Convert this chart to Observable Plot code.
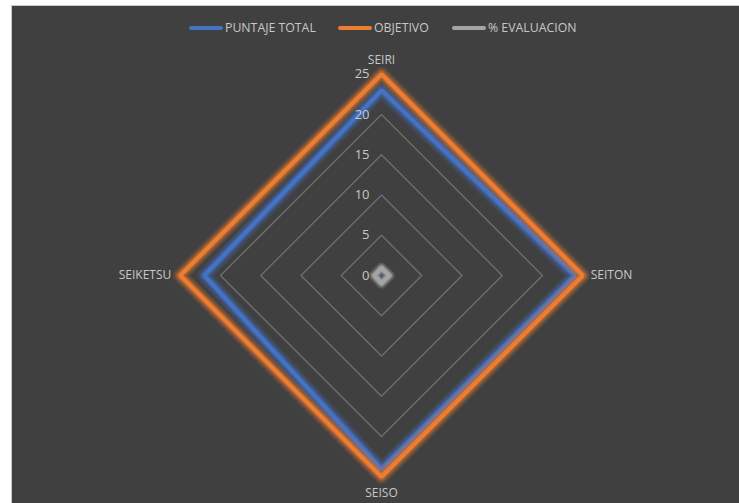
<!DOCTYPE html>
<html>
<head>
<meta charset="utf-8">
<script src="https://cdn.jsdelivr.net/npm/d3@7"></script>
<script src="https://cdn.jsdelivr.net/npm/@observablehq/plot@0.6"></script>
<style>
  html, body { margin: 0; padding: 0; background: #ffffff; }
  body { width: 739px; height: 503px; overflow: hidden; position: relative; font-family: "Open Sans", "Noto Sans", sans-serif; }
  #frame { position: absolute; left: 11px; top: 5px; width: 740px; height: 510px; background: #404040; border-left: 1px solid #c8c8c8; border-top: 1px solid #c8c8c8; }
  #chart { position: absolute; left: 0; top: 0; }
  #legend { position: absolute; top: 19px; left: 0; width: 739px; height: 18px; }
  .li { position: absolute; top: 0; display: flex; align-items: center; color: #c8c8c8; font-size: 12.3px; line-height: 18px; }
  .sw { width: 34px; height: 4px; border-radius: 2px; margin-right: 2px; }
</style>
</head>
<body>
<div id="frame"></div>
<div id="chart"></div>
<div id="legend"></div>
<script>
const categories = ["SEIRI", "SEITON", "SEISO", "SEIKETSU"];
const puntajeTotal = [23, 24, 24, 22];
const objetivo = [25, 25, 25, 25];
const evaluacion = [0.92, 0.96, 0.96, 0.88];
const seriesNames = ["PUNTAJE TOTAL", "OBJETIVO", "% EVALUACION"];
const seriesColors = ["#4472C4", "#ED7D31", "#A5A5A5"];
const ticks = [0, 5, 10, 15, 20, 25];
const gridLevels = [5, 10, 15, 20, 25];

const W = 739, H = 503;
const cx = 381, cy = 275, k = 8.05;

const angle = i => (i * 2 * Math.PI) / categories.length;
const px = (r, i) => r * Math.sin(angle(i));
const py = (r, i) => r * Math.cos(angle(i));

const allSeries = [puntajeTotal, objetivo, evaluacion];
const seriesRows = allSeries.map((vals, s) =>
  categories.map((c, i) => ({ series: seriesNames[s], cat: c, i, value: vals[i] }))
);
const gridRows = gridLevels.flatMap(g => categories.map((c, i) => ({ level: g, i })));
const tickRows = ticks.map(t => ({ t }));
const labelRows = categories.map((c, i) => ({ cat: c, i }));

const marks = [];
// grid diamonds
marks.push(Plot.line(gridRows, {
  x: d => px(d.level, d.i), y: d => py(d.level, d.i), z: "level",
  curve: "linear-closed", stroke: "#6f6f6f", strokeWidth: 1.3
}));
// series: soft glow (stacked translucent strokes) + line
const glowLayers = [[15, 0.12], [12, 0.16], [9, 0.22], [7, 0.3]];
seriesRows.forEach((rows, s) => {
  const col = seriesColors[s];
  const glowCol = s === 2 ? "#f0f0f0" : col;
  const scaleW = s === 2 ? 0.75 : 1;
  glowLayers.forEach(([w, o]) => {
    marks.push(Plot.line(rows, {
      x: d => px(d.value, d.i), y: d => py(d.value, d.i),
      curve: "linear-closed", stroke: glowCol, strokeWidth: w * scaleW,
      strokeOpacity: s === 2 ? o * 0.8 : o, strokeLinejoin: "round"
    }));
  });
  marks.push(Plot.line(rows, {
    x: d => px(d.value, d.i), y: d => py(d.value, d.i),
    curve: "linear-closed", stroke: col, strokeWidth: s === 2 ? 3.5 : 4.2,
    strokeLinejoin: "miter"
  }));
});
// tick labels
marks.push(Plot.text(tickRows, {
  x: () => 0, y: d => d.t, text: d => String(d.t),
  dx: -12, textAnchor: "end", fill: "#c8c8c8", fontSize: 13
}));
// category labels (one mark per position so each gets its own offset)
const labelOffsets = [[0, -14], [8, 0], [0, 16], [-9, 0]];
const labelAnchors = ["middle", "start", "middle", "end"];
labelRows.forEach((row, j) => {
  marks.push(Plot.text([row], {
    x: d => px(25, d.i), y: d => py(25, d.i), text: "cat",
    dx: labelOffsets[j][0], dy: labelOffsets[j][1],
    fill: "#c8c8c8", fontSize: 12, textAnchor: labelAnchors[j]
  }));
});

const plot = Plot.plot({
  width: W, height: H,
  marginTop: 0, marginBottom: 0, marginLeft: 0, marginRight: 0,
  x: { domain: [-cx / k, (W - cx) / k], axis: null },
  y: { domain: [-(H - cy) / k, cy / k], axis: null },
  style: { background: "transparent", fontFamily: "Open Sans, Noto Sans, sans-serif", overflow: "visible" },
  marks
});

document.getElementById("chart").appendChild(plot);

// legend
const legend = document.getElementById("legend");
const lefts = [189, 338, 452];
seriesNames.forEach((n, s) => {
  const it = document.createElement("div");
  it.className = "li";
  it.style.left = lefts[s] + "px";
  it.innerHTML = `<span class="sw" style="background:${seriesColors[s]}"></span><span>${n}</span>`;
  legend.appendChild(it);
});
</script>
</body>
</html>
